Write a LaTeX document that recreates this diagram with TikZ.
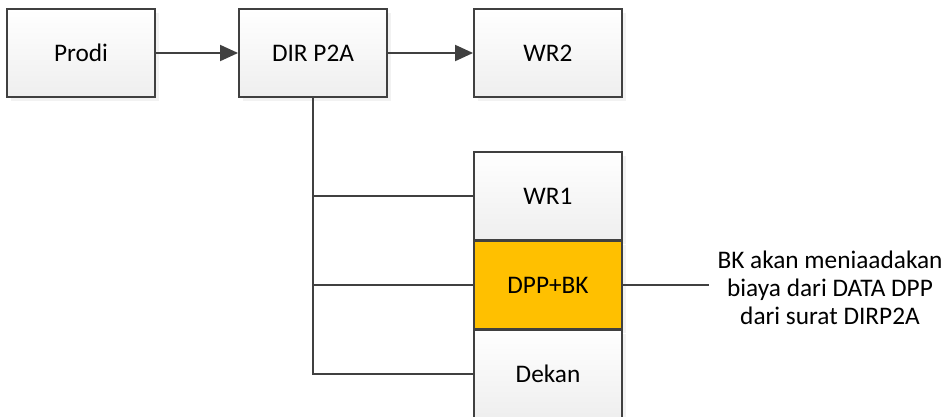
\documentclass[tikz,border=0pt]{standalone}
\usepackage{fontspec}
\setmainfont{Carlito}
\usetikzlibrary{arrows.meta, shadows}

\definecolor{boxline}{HTML}{404040}
\definecolor{boxgold}{HTML}{FFC000}

\begin{document}
\begin{tikzpicture}[x=0.02cm, y=-0.02cm, font=\fontsize{14.4}{16}\selectfont,
    unitbox/.style={draw=boxline, line width=1.1pt, minimum width=2.96cm, minimum height=1.77cm,
        top color=white, bottom color=gray!13, inner sep=0pt,
        drop shadow={shadow xshift=0.08cm, shadow yshift=-0.08cm, fill=gray!15, opacity=0.7}},
    goldbox/.style={unitbox, fill=boxgold, top color=boxgold, bottom color=boxgold},
    link/.style={draw=boxline, line width=1.1pt}]
    \useasboundingbox (0,0) rectangle (946,416);

    % top row
    \node [unitbox] (prodi) at (81,53) {Prodi};
    \node [unitbox] (dir) at (313,53) {DIR P2A};
    \node [unitbox] (wr2) at (548,53) {WR2};

    % stacked boxes
    \node [unitbox] (wr1) at (548,196) {WR1};
    \node [goldbox] (dpp) at (548,285) {DPP+BK};
    \node [unitbox] (dekan) at (548,374) {Dekan};

    \node [align=center, inner sep=0pt] (note) at (830,288)
        {BK akan meniaadakan\\biaya dari DATA DPP\\dari surat DIRP2A};
    \coordinate (noteend) at (709,285);

    \draw [link, -{Triangle[length=0.36cm, width=0.32cm]}] (prodi) -- (dir);
    \draw [link, -{Triangle[length=0.36cm, width=0.32cm]}] (dir) -- (wr2);

    \draw [link] (dir.south) |- (dekan.west);
    \draw [link] (dir.south) |- (wr1.west);
    \draw [link] (dir.south) |- (dpp.west);
    \draw [link, line width=0.8pt] (dpp.east) -- (noteend);
\end{tikzpicture}
\end{document}
